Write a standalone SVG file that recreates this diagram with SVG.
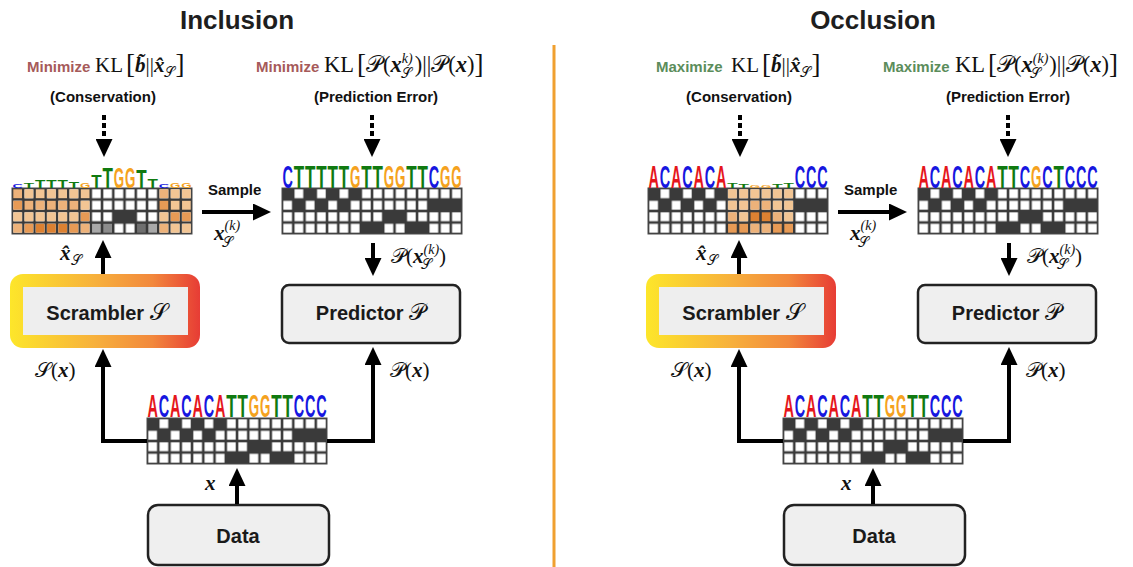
<svg xmlns="http://www.w3.org/2000/svg" xmlns:xlink="http://www.w3.org/1999/xlink" width="1133" height="567" viewBox="0 0 1133 567">
  <style>
    .title { font: bold 26px "Liberation Sans", Arial, sans-serif; fill: #1e1e1e; text-anchor: middle; }
    .obj { font: bold 15px "Liberation Sans", Arial, sans-serif; }
    .min { fill: #a65a5a; }
    .max { fill: #5b8d5b; }
    .cap { font: bold 15px "Liberation Sans", Arial, sans-serif; fill: #111; text-anchor: middle; }
    .m { font-family: "Liberation Serif", "DejaVu Serif", serif; font-size: 21px; fill: #111; }
    .m22 { font-size: 22.5px; }
    .bx { font-weight: bold; font-style: italic; }
    .cal { font-family: "DejaVu Serif", "DejaVu Sans", "Noto Sans", serif; font-weight: normal; font-style: normal; }
    .sub { font-size: 14px; }
    .sup { font-size: 14px; font-style: italic; }
    .br { font-size: 27px; }
    .lbl { font: bold 20px "Liberation Sans", Arial, sans-serif; fill: #1a1a1a; text-anchor: middle; }
    .lg { font: bold 20px "Liberation Sans", Arial, sans-serif; }
    .wire { stroke: #000; stroke-width: 4; fill: none; }
    .dots { stroke: #000; stroke-width: 4; fill: none; stroke-dasharray: 5 3; }
    .box { fill: #efefef; stroke: #222; stroke-width: 2.5; }
    .o1 { fill: #f2c594; } .o2 { fill: #edb27a; } .o3 { fill: #e79a55; } .o4 { fill: #dc8132; }
    .g1 { fill: #a9a9a9; } .g2 { fill: #8c8c8c; } .g3 { fill: #6f6f6f; }
  </style>
  <defs>
    <linearGradient id="scrGrad" x1="0" y1="0" x2="1" y2="0">
      <stop offset="0" stop-color="#fde62a"/>
      <stop offset="0.45" stop-color="#f7b03c"/>
      <stop offset="0.75" stop-color="#f2883c"/>
      <stop offset="1" stop-color="#e73c35"/>
    </linearGradient>
    <marker id="ah" markerUnits="userSpaceOnUse" viewBox="0 0 18 17" markerWidth="18" markerHeight="17" refX="10" refY="8.5" orient="auto">
      <path d="M0,0 L18,8.5 L0,17 z" fill="#000"/>
    </marker>
    <pattern id="cells" patternUnits="userSpaceOnUse" width="11.25" height="11.5">
      <rect x="1.3" y="1.3" width="8.7" height="8.9" fill="#fff"/>
    </pattern>
    <!-- one-hot matrix of ACACACATTGGTTCCC, rows A C G T -->
    <g id="onehot">
      <rect width="180" height="46" fill="#3a3a3a"/>
      <rect width="180" height="46" fill="url(#cells)"/>
      <g fill="#3a3a3a">
        <rect x="0" y="0" width="11.25" height="11.5"/>
        <rect x="22.5" y="0" width="11.25" height="11.5"/>
        <rect x="45" y="0" width="11.25" height="11.5"/>
        <rect x="67.5" y="0" width="11.25" height="11.5"/>
        <rect x="11.25" y="11.5" width="11.25" height="11.5"/>
        <rect x="33.75" y="11.5" width="11.25" height="11.5"/>
        <rect x="56.25" y="11.5" width="11.25" height="11.5"/>
        <rect x="146.25" y="11.5" width="33.75" height="11.5"/>
        <rect x="101.25" y="23" width="22.5" height="11.5"/>
        <rect x="78.75" y="34.5" width="22.5" height="11.5"/>
        <rect x="123.75" y="34.5" width="22.5" height="11.5"/>
      </g>
      <rect width="180" height="46" fill="none" stroke="#4a4a4a" stroke-width="1"/>
    </g>
    <!-- logo glyphs at full column height -->
    <text id="LA" class="lg" fill="#e5161c" textLength="10.4" lengthAdjust="spacingAndGlyphs" transform="scale(1 1.6)">A</text>
    <text id="LC" class="lg" fill="#1616e0" textLength="10.4" lengthAdjust="spacingAndGlyphs" transform="scale(1 1.6)">C</text>
    <text id="LG" class="lg" fill="#f5a21e" textLength="10.4" lengthAdjust="spacingAndGlyphs" transform="scale(1 1.6)">G</text>
    <text id="LT" class="lg" fill="#107a10" textLength="10.4" lengthAdjust="spacingAndGlyphs" transform="scale(1 1.6)">T</text>
    <!-- full-height sequence rows -->
    <g id="seqData">
      <use href="#LA" x="0.4"/><use href="#LC" x="11.65"/><use href="#LA" x="22.9"/><use href="#LC" x="34.15"/>
      <use href="#LA" x="45.4"/><use href="#LC" x="56.65"/><use href="#LA" x="67.9"/><use href="#LT" x="79.15"/>
      <use href="#LT" x="90.4"/><use href="#LG" x="101.65"/><use href="#LG" x="112.9"/><use href="#LT" x="124.15"/>
      <use href="#LT" x="135.4"/><use href="#LC" x="146.65"/><use href="#LC" x="157.9"/><use href="#LC" x="169.15"/>
    </g>
  </defs>

  <!-- panel titles and divider -->
  <text class="title" x="237" y="29">Inclusion</text>
  <text class="title" x="873" y="29">Occlusion</text>
  <line x1="554" y1="45" x2="554" y2="567" stroke="#f0a030" stroke-width="3"/>

  <!-- objectives -->
  <g id="obj-inc-cons">
    <text class="obj min" x="27" y="72">Minimize</text>
    <text class="m" x="95" y="72">KL<tspan class="br" dx="3" dy="1">[</tspan><tspan class="bx" dy="-1">b&#x303;</tspan>||<tspan class="bx">x&#x302;</tspan><tspan class="cal sub" dy="5">&#x1D4AE;</tspan><tspan class="br" dy="-4">]</tspan></text>
    <text class="cap" x="103" y="102">(Conservation)</text>
  </g>
  <g id="obj-inc-pred">
    <text class="obj min" x="256" y="72">Minimize</text>
    <text class="m m22" x="324" y="72">KL<tspan class="br" dx="3" dy="1">[</tspan><tspan class="cal" dy="-1">&#x1D4AB;</tspan>(<tspan class="bx">x</tspan><tspan class="sup" dy="-9">k)</tspan><tspan class="cal sub" dx="-12" dy="15">&#x1D4AE;</tspan><tspan dx="3" dy="-6">)||</tspan><tspan class="cal">&#x1D4AB;</tspan>(<tspan class="bx">x</tspan>)<tspan class="br" dy="1">]</tspan></text>
    <text class="cap" x="376" y="102">(Prediction Error)</text>
  </g>
  <g id="obj-occ-cons">
    <text class="obj max" x="656" y="72">Maximize</text>
    <text class="m" x="731" y="72">KL<tspan class="br" dx="3" dy="1">[</tspan><tspan class="bx" dy="-1">b&#x303;</tspan>||<tspan class="bx">x&#x302;</tspan><tspan class="cal sub" dy="5">&#x1D4AE;</tspan><tspan class="br" dy="-4">]</tspan></text>
    <text class="cap" x="739" y="102">(Conservation)</text>
  </g>
  <g id="obj-occ-pred">
    <text class="obj max" x="883" y="72">Maximize</text>
    <text class="m m22" x="955" y="72">KL<tspan class="br" dx="3" dy="1">[</tspan><tspan class="cal" dy="-1">&#x1D4AB;</tspan>(<tspan class="bx">x</tspan><tspan class="sup" dy="-9">(k)</tspan><tspan class="cal sub" dx="-18" dy="15">&#x1D4AE;</tspan><tspan dx="8" dy="-6">)||</tspan><tspan class="cal">&#x1D4AB;</tspan>(<tspan class="bx">x</tspan>)<tspan class="br" dy="1">]</tspan></text>
    <text class="cap" x="1008" y="102">(Prediction Error)</text>
  </g>

  <!-- Inclusion: scrambled importance matrix -->
  <g id="inc-scrambled" transform="translate(12 188)">
    <use href="#onehot"/>
    <g>
      <rect class="o2" x="1.3" y="1.3" width="8.7" height="8.9"/><rect class="o1" x="12.55" y="1.3" width="8.7" height="8.9"/><rect class="o1" x="23.8" y="1.3" width="8.7" height="8.9"/><rect class="o1" x="35.05" y="1.3" width="8.7" height="8.9"/><rect class="o1" x="46.3" y="1.3" width="8.7" height="8.9"/><rect class="o1" x="57.55" y="1.3" width="8.7" height="8.9"/><rect class="o1" x="68.8" y="1.3" width="8.7" height="8.9"/>
      <rect class="o2" x="147.55" y="1.3" width="8.7" height="8.9"/><rect class="o1" x="158.8" y="1.3" width="8.7" height="8.9"/><rect class="o1" x="170.05" y="1.3" width="8.7" height="8.9"/>
      <rect class="o3" x="1.3" y="12.8" width="8.7" height="8.9"/><rect class="o2" x="12.55" y="12.8" width="8.7" height="8.9"/><rect class="o2" x="23.8" y="12.8" width="8.7" height="8.9"/><rect class="o2" x="35.05" y="12.8" width="8.7" height="8.9"/><rect class="o2" x="46.3" y="12.8" width="8.7" height="8.9"/><rect class="o2" x="57.55" y="12.8" width="8.7" height="8.9"/><rect class="o1" x="68.8" y="12.8" width="8.7" height="8.9"/>
      <rect class="o3" x="147.55" y="12.8" width="8.7" height="8.9"/><rect class="o1" x="158.8" y="12.8" width="8.7" height="8.9"/><rect class="o1" x="170.05" y="12.8" width="8.7" height="8.9"/>
      <rect class="o1" x="1.3" y="24.3" width="8.7" height="8.9"/><rect class="o1" x="12.55" y="24.3" width="8.7" height="8.9"/><rect class="o1" x="23.8" y="24.3" width="8.7" height="8.9"/><rect class="o1" x="35.05" y="24.3" width="8.7" height="8.9"/><rect class="o1" x="46.3" y="24.3" width="8.7" height="8.9"/><rect class="o1" x="57.55" y="24.3" width="8.7" height="8.9"/><rect class="o3" x="68.8" y="24.3" width="8.7" height="8.9"/>
      <rect class="o1" x="147.55" y="24.3" width="8.7" height="8.9"/><rect class="o3" x="158.8" y="24.3" width="8.7" height="8.9"/><rect class="o3" x="170.05" y="24.3" width="8.7" height="8.9"/>
      <rect class="o2" x="1.3" y="35.8" width="8.7" height="8.9"/><rect class="o3" x="12.55" y="35.8" width="8.7" height="8.9"/><rect class="o4" x="23.8" y="35.8" width="8.7" height="8.9"/><rect class="o4" x="35.05" y="35.8" width="8.7" height="8.9"/><rect class="o4" x="46.3" y="35.8" width="8.7" height="8.9"/><rect class="o3" x="57.55" y="35.8" width="8.7" height="8.9"/><rect class="o2" x="68.8" y="35.8" width="8.7" height="8.9"/>
      <rect class="g1" x="80.05" y="35.8" width="8.7" height="8.9"/><rect class="g2" x="91.3" y="35.8" width="8.7" height="8.9"/><rect class="g3" x="125.05" y="35.8" width="8.7" height="8.9"/><rect class="g1" x="136.3" y="35.8" width="8.7" height="8.9"/>
      <rect class="o2" x="147.55" y="35.8" width="8.7" height="8.9"/><rect class="o1" x="158.8" y="35.8" width="8.7" height="8.9"/><rect class="o1" x="170.05" y="35.8" width="8.7" height="8.9"/>
    </g>
    <g transform="translate(0 -0.5)">
      <use href="#LC" transform="translate(0.4 0) scale(1 0.18)"/>
      <use href="#LT" transform="translate(11.65 0) scale(1 0.23)"/>
      <use href="#LT" transform="translate(22.9 0) scale(1 0.32)"/>
      <use href="#LT" transform="translate(34.15 0) scale(1 0.32)"/>
      <use href="#LT" transform="translate(45.4 0) scale(1 0.32)"/>
      <use href="#LT" transform="translate(56.65 0) scale(1 0.27)"/>
      <use href="#LG" transform="translate(67.9 0) scale(1 0.23)"/>
      <use href="#LT" transform="translate(79.15 0) scale(1 0.55)"/>
      <use href="#LT" transform="translate(90.4 0) scale(1 0.9)"/>
      <use href="#LG" transform="translate(101.65 0) scale(1 0.95)"/>
      <use href="#LG" transform="translate(112.9 0) scale(1 0.95)"/>
      <use href="#LT" transform="translate(124.15 0) scale(1 0.8)"/>
      <use href="#LT" transform="translate(135.4 0) scale(1 0.42)"/>
      <use href="#LC" transform="translate(146.65 0) scale(1 0.18)"/>
      <use href="#LG" transform="translate(157.9 0) scale(1 0.2)"/>
      <use href="#LG" transform="translate(169.15 0) scale(1 0.2)"/>
    </g>
  </g>

  <!-- Inclusion: sampled sequence -->
  <g id="inc-sample" transform="translate(282 188)">
    <use href="#onehot"/>
    <g transform="translate(0 -0.5)">
      <use href="#LC" x="0.4"/><use href="#LT" x="11.65"/><use href="#LT" x="22.9"/><use href="#LT" x="34.15"/>
      <use href="#LT" x="45.4"/><use href="#LT" x="56.65"/><use href="#LG" x="67.9"/><use href="#LT" x="79.15"/>
      <use href="#LT" x="90.4"/><use href="#LG" x="101.65"/><use href="#LG" x="112.9"/><use href="#LT" x="124.15"/>
      <use href="#LT" x="135.4"/><use href="#LC" x="146.65"/><use href="#LG" x="157.9"/><use href="#LG" x="169.15"/>
    </g>
  </g>

  <!-- Inclusion: input sequence -->
  <g id="inc-input" transform="translate(147 418)">
    <use href="#onehot"/>
    <use href="#seqData" y="-1"/>
  </g>

  <!-- Occlusion: scrambled importance matrix -->
  <g id="occ-scrambled" transform="translate(648 188)">
    <use href="#onehot"/>
    <g>
      <rect class="o1" x="80.05" y="1.3" width="8.7" height="8.9"/><rect class="o1" x="91.3" y="1.3" width="8.7" height="8.9"/><rect class="o1" x="102.55" y="1.3" width="8.7" height="8.9"/><rect class="o1" x="113.8" y="1.3" width="8.7" height="8.9"/><rect class="o1" x="125.05" y="1.3" width="8.7" height="8.9"/><rect class="o1" x="136.3" y="1.3" width="8.7" height="8.9"/>
      <rect class="o1" x="80.05" y="12.8" width="8.7" height="8.9"/><rect class="o1" x="91.3" y="12.8" width="8.7" height="8.9"/><rect class="o2" x="102.55" y="12.8" width="8.7" height="8.9"/><rect class="o2" x="113.8" y="12.8" width="8.7" height="8.9"/><rect class="o1" x="125.05" y="12.8" width="8.7" height="8.9"/><rect class="o1" x="136.3" y="12.8" width="8.7" height="8.9"/>
      <rect class="o2" x="80.05" y="24.3" width="8.7" height="8.9"/><rect class="o1" x="91.3" y="24.3" width="8.7" height="8.9"/><rect class="o4" x="102.55" y="24.3" width="8.7" height="8.9"/><rect class="o4" x="113.8" y="24.3" width="8.7" height="8.9"/><rect class="o2" x="125.05" y="24.3" width="8.7" height="8.9"/><rect class="o1" x="136.3" y="24.3" width="8.7" height="8.9"/>
      <rect class="o3" x="80.05" y="35.8" width="8.7" height="8.9"/><rect class="o3" x="91.3" y="35.8" width="8.7" height="8.9"/><rect class="o2" x="102.55" y="35.8" width="8.7" height="8.9"/><rect class="o2" x="113.8" y="35.8" width="8.7" height="8.9"/><rect class="o3" x="125.05" y="35.8" width="8.7" height="8.9"/><rect class="o3" x="136.3" y="35.8" width="8.7" height="8.9"/>
    </g>
    <g transform="translate(0 -0.5)">
      <use href="#LA" x="0.4"/><use href="#LC" x="11.65"/><use href="#LA" x="22.9"/><use href="#LC" x="34.15"/>
      <use href="#LA" x="45.4"/><use href="#LC" x="56.65"/><use href="#LA" x="67.9"/>
      <use href="#LT" transform="translate(79.15 0) scale(1 0.23)"/>
      <use href="#LT" transform="translate(90.4 0) scale(1 0.14)"/>
      <use href="#LG" transform="translate(101.65 0) scale(1 0.09)"/>
      <use href="#LG" transform="translate(112.9 0) scale(1 0.09)"/>
      <use href="#LT" transform="translate(124.15 0) scale(1 0.14)"/>
      <use href="#LT" transform="translate(135.4 0) scale(1 0.23)"/>
      <use href="#LC" x="146.65"/><use href="#LC" x="157.9"/><use href="#LC" x="169.15"/>
    </g>
  </g>

  <!-- Occlusion: sampled sequence -->
  <g id="occ-sample" transform="translate(918 188)">
    <use href="#onehot"/>
    <g transform="translate(0 -0.5)">
      <use href="#LA" x="0.4"/><use href="#LC" x="11.65"/><use href="#LA" x="22.9"/><use href="#LC" x="34.15"/>
      <use href="#LA" x="45.4"/><use href="#LC" x="56.65"/><use href="#LA" x="67.9"/><use href="#LT" x="79.15"/>
      <use href="#LT" x="90.4"/><use href="#LC" x="101.65"/><use href="#LG" x="112.9"/><use href="#LC" x="124.15"/>
      <use href="#LT" x="135.4"/><use href="#LC" x="146.65"/><use href="#LC" x="157.9"/><use href="#LC" x="169.15"/>
    </g>
  </g>

  <!-- Occlusion: input sequence -->
  <g id="occ-input" transform="translate(783 418)">
    <use href="#onehot"/>
    <use href="#seqData" y="-1"/>
  </g>

  <!-- model boxes -->
  <g id="inc-scrambler">
    <rect x="10" y="274" width="190" height="74" rx="13" fill="url(#scrGrad)"/>
    <rect x="23" y="287" width="165" height="48" fill="#eeeeee"/>
    <text class="lbl" x="107" y="320">Scrambler <tspan class="m cal" style="font-size:23px">&#x1D4AE;</tspan></text>
  </g>
  <g id="inc-predictor">
    <rect class="box" x="282" y="285" width="178" height="58" rx="7"/>
    <text class="lbl" x="371" y="320">Predictor <tspan class="m cal" style="font-size:23px">&#x1D4AB;</tspan></text>
  </g>
  <g id="inc-data">
    <rect class="box" x="148" y="505" width="181" height="60" rx="10"/>
    <text class="lbl" x="238" y="543">Data</text>
  </g>
  <g id="occ-scrambler">
    <rect x="646" y="274" width="190" height="74" rx="13" fill="url(#scrGrad)"/>
    <rect x="659" y="287" width="165" height="48" fill="#eeeeee"/>
    <text class="lbl" x="743" y="320">Scrambler <tspan class="m cal" style="font-size:23px">&#x1D4AE;</tspan></text>
  </g>
  <g id="occ-predictor">
    <rect class="box" x="918" y="285" width="178" height="58" rx="7"/>
    <text class="lbl" x="1007" y="320">Predictor <tspan class="m cal" style="font-size:23px">&#x1D4AB;</tspan></text>
  </g>
  <g id="occ-data">
    <rect class="box" x="784" y="505" width="181" height="60" rx="10"/>
    <text class="lbl" x="874" y="543">Data</text>
  </g>

  <!-- connectors -->
  <g id="connectors">
    <path class="dots" d="M104,115 V149" marker-end="url(#ah)"/>
    <path class="dots" d="M372,115 V149" marker-end="url(#ah)"/>
    <path class="wire" d="M103,274 V248" marker-end="url(#ah)"/>
    <path class="wire" d="M202,212 H263" marker-end="url(#ah)"/>
    <path class="wire" d="M373,243 V268" marker-end="url(#ah)"/>
    <path class="wire" d="M147,441 H103 V357" marker-end="url(#ah)"/>
    <path class="wire" d="M327,441 H373 V355" marker-end="url(#ah)"/>
    <path class="wire" d="M237,504 V476" marker-end="url(#ah)"/>

    <path class="dots" d="M740,115 V149" marker-end="url(#ah)"/>
    <path class="dots" d="M1008,115 V149" marker-end="url(#ah)"/>
    <path class="wire" d="M739,274 V248" marker-end="url(#ah)"/>
    <path class="wire" d="M838,212 H899" marker-end="url(#ah)"/>
    <path class="wire" d="M1009,243 V268" marker-end="url(#ah)"/>
    <path class="wire" d="M783,441 H739 V357" marker-end="url(#ah)"/>
    <path class="wire" d="M963,441 H1009 V355" marker-end="url(#ah)"/>
    <path class="wire" d="M873,504 V476" marker-end="url(#ah)"/>

    <!-- connector labels -->
    <text class="obj" x="208" y="195" fill="#111">Sample</text>
    <text class="m" x="214" y="240"><tspan class="bx">x</tspan><tspan class="sup" dy="-10">(k)</tspan><tspan class="cal sub" dx="-18" dy="17">&#x1D4AE;</tspan></text>
    <text class="m" x="60" y="260"><tspan class="bx">x&#x302;</tspan><tspan class="cal sub" dy="5">&#x1D4AE;</tspan></text>
    <text class="m" x="391" y="263"><tspan class="cal">&#x1D4AB;</tspan>(<tspan class="bx">x</tspan><tspan class="sup" dy="-9">(k)</tspan><tspan class="cal sub" dx="-18" dy="15">&#x1D4AE;</tspan><tspan dx="7" dy="-6">)</tspan></text>
    <text class="m" x="35" y="377"><tspan class="cal">&#x1D4AE;</tspan>(<tspan class="bx">x</tspan>)</text>
    <text class="m" x="390" y="377"><tspan class="cal">&#x1D4AB;</tspan>(<tspan class="bx">x</tspan>)</text>
    <text class="m bx" x="205" y="490">x</text>

    <text class="obj" x="844" y="195" fill="#111">Sample</text>
    <text class="m" x="850" y="240"><tspan class="bx">x</tspan><tspan class="sup" dy="-10">(k)</tspan><tspan class="cal sub" dx="-18" dy="17">&#x1D4AE;</tspan></text>
    <text class="m" x="696" y="260"><tspan class="bx">x&#x302;</tspan><tspan class="cal sub" dy="5">&#x1D4AE;</tspan></text>
    <text class="m" x="1027" y="263"><tspan class="cal">&#x1D4AB;</tspan>(<tspan class="bx">x</tspan><tspan class="sup" dy="-9">(k)</tspan><tspan class="cal sub" dx="-18" dy="15">&#x1D4AE;</tspan><tspan dx="7" dy="-6">)</tspan></text>
    <text class="m" x="671" y="377"><tspan class="cal">&#x1D4AE;</tspan>(<tspan class="bx">x</tspan>)</text>
    <text class="m" x="1026" y="377"><tspan class="cal">&#x1D4AB;</tspan>(<tspan class="bx">x</tspan>)</text>
    <text class="m bx" x="841" y="490">x</text>
  </g>
</svg>
